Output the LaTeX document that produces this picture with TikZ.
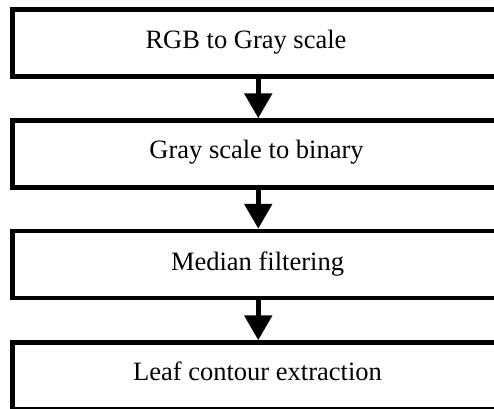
\documentclass[tikz,border=0pt]{standalone}
\usepackage{fontspec}
\setmainfont{Liberation Serif}
\usetikzlibrary{arrows.meta}
\begin{document}
\begin{tikzpicture}[x=1pt,y=-1pt,
  stepbox/.style={draw=black,line width=4.5pt,rectangle,minimum width=491.5pt,minimum height=67pt,inner sep=0pt},
  steptext/.style={anchor=base,inner sep=0pt,font=\fontsize{26.5}{30}\selectfont},
  flow/.style={line width=5.5pt,-{Triangle[length=25pt,width=27pt]}}]
\useasboundingbox (0,0) rectangle (494,408);
\clip (0,0) rectangle (494,408);
\node[stepbox] (b1) at (258.25,43) {};
\node[stepbox] (b2) at (258.25,154) {};
\node[stepbox] (b3) at (258.25,264.5) {};
\node[stepbox] (b4) at (258.25,376) {};
\node[steptext] (t1) at (246,48) {RGB to Gray scale};
\node[steptext] (t2) at (256.5,158) {Gray scale to binary};
\node[steptext] (t3) at (257.5,270) {Median filtering};
\node[steptext] (t4) at (257.5,380) {Leaf contour extraction};
\draw[flow] (b1.south) -- (b2.north);
\draw[flow] (b2.south) -- (b3.north);
\draw[flow] (b3.south) -- (b4.north);
\end{tikzpicture}
\end{document}
